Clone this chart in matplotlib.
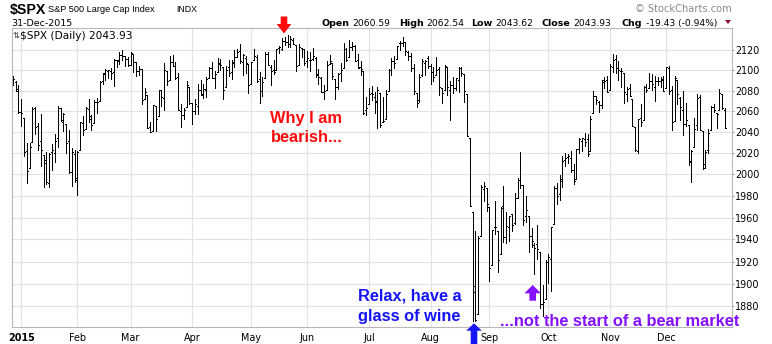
import matplotlib
matplotlib.use("Agg")
import matplotlib.pyplot as plt
from matplotlib.patches import Polygon
from matplotlib.ticker import NullLocator
import numpy as np
import pandas as pd

plt.rcParams["font.family"] = ["DejaVu Sans"]

W, H = 772, 344

# trading calendar (last 3 sessions of 2014 + all of 2015)
holidays = ["2015-01-01", "2015-01-19", "2015-02-16", "2015-04-03", "2015-05-25",
            "2015-07-03", "2015-09-07", "2015-11-26", "2015-12-25"]
dates = pd.bdate_range("2014-12-29", "2015-12-31", freq="C", holidays=holidays)

# daily OHLC (Dec-14 | Jan .. Dec)
opens = [2088, 2088, 2082,
         2059, 2054, 2022, 2006, 2031, 2063, 2046, 2032, 2018, 2014, 1992, 2021, 2020, 2034, 2063, 2050, 2048, 2032, 2002, 2019,
         1997, 2023, 2049, 2043, 2062, 2053, 2049, 2069, 2070, 2089, 2096, 2099, 2099, 2098, 2110, 2109, 2115, 2114, 2111,
         2105, 2116, 2108, 2099, 2101, 2072, 2076, 2045, 2041, 2065, 2055, 2081, 2073, 2099, 2090, 2108, 2104, 2093, 2060, 2056, 2064, 2084,
         2068, 2060, 2065, 2081, 2077, 2081, 2092, 2102, 2092, 2098, 2106, 2103, 2084, 2103, 2098, 2107, 2113, 2119, 2108, 2112, 2106,
         2087, 2110, 2113, 2091, 2080, 2092, 2116, 2103, 2100, 2100, 2122, 2121, 2129, 2128, 2126, 2130, 2125, 2105, 2122, 2121,
         2109, 2110, 2111, 2112, 2095, 2092, 2079, 2081, 2106, 2107, 2091, 2084, 2097, 2102, 2121, 2113, 2123, 2124, 2110, 2103, 2099, 2061,
         2067, 2078, 2074, 2070, 2078, 2050, 2053, 2080, 2100, 2109, 2111, 2127, 2127, 2128, 2118, 2114, 2102, 2078, 2071, 2095, 2107, 2112,
         2104, 2098, 2095, 2101, 2083, 2081, 2103, 2081, 2086, 2083, 2090, 2102, 2096, 2077, 2034, 1965, 1898, 1873, 1943, 1986, 1987,
         1970, 1917, 1951, 1948, 1927, 1971, 1942, 1951, 1963, 1955, 1978, 1995, 1990, 1961, 1961, 1943, 1935, 1936, 1929, 1882, 1887,
         1920, 1922, 1954, 1987, 1982, 1994, 2014, 2016, 2015, 2004, 1996, 2024, 2032, 2033, 2033, 2022, 2058, 2075, 2069, 2066, 2088, 2090,
         2081, 2103, 2111, 2102, 2099, 2097, 2077, 2083, 2072, 2045, 2022, 2054, 2052, 2084, 2083, 2089, 2084, 2089, 2089, 2091,
         2083, 2102, 2081, 2051, 2090, 2073, 2061, 2048, 2047, 2013, 2026, 2047, 2074, 2041, 2010, 2023, 2042, 2064, 2058, 2061, 2077, 2061]
highs = [2094, 2089, 2086,
         2072, 2054, 2030, 2030, 2064, 2064, 2049, 2057, 2018, 2021, 2020, 2029, 2038, 2065, 2063, 2058, 2048, 2042, 2025, 2023,
         2022, 2050, 2055, 2064, 2072, 2056, 2071, 2073, 2089, 2097, 2101, 2100, 2102, 2111, 2110, 2118, 2120, 2114, 2113,
         2118, 2116, 2108, 2104, 2101, 2083, 2076, 2050, 2066, 2065, 2081, 2081, 2107, 2099, 2114, 2115, 2108, 2097, 2067, 2063, 2089, 2084,
         2068, 2072, 2087, 2090, 2087, 2093, 2103, 2108, 2099, 2112, 2111, 2103, 2104, 2110, 2110, 2120, 2121, 2126, 2116, 2114, 2106,
         2108, 2121, 2115, 2098, 2093, 2118, 2118, 2105, 2110, 2121, 2124, 2132, 2133, 2135, 2134, 2132, 2125, 2126, 2122, 2121,
         2119, 2118, 2122, 2113, 2101, 2093, 2086, 2109, 2115, 2107, 2091, 2097, 2107, 2127, 2122, 2130, 2128, 2125, 2116, 2109, 2099, 2074,
         2083, 2085, 2079, 2084, 2078, 2074, 2081, 2101, 2112, 2114, 2124, 2129, 2133, 2128, 2119, 2117, 2106, 2078, 2096, 2111, 2110, 2114,
         2106, 2103, 2113, 2103, 2083, 2105, 2103, 2089, 2093, 2092, 2103, 2103, 2096, 2077, 2034, 1965, 1948, 1943, 1990, 1993, 1987,
         1970, 1949, 1975, 1948, 1970, 1989, 1965, 1961, 1963, 1983, 1997, 2021, 1990, 1980, 1961, 1950, 1937, 1953, 1929, 1899, 1921,
         1927, 1951, 1989, 1992, 1999, 2017, 2020, 2019, 2022, 2010, 2024, 2034, 2034, 2039, 2038, 2055, 2080, 2075, 2070, 2090, 2093, 2094,
         2106, 2116, 2115, 2109, 2102, 2097, 2084, 2087, 2072, 2045, 2053, 2067, 2085, 2087, 2097, 2096, 2094, 2093, 2093, 2094,
         2103, 2104, 2085, 2094, 2090, 2074, 2080, 2068, 2047, 2023, 2054, 2077, 2076, 2041, 2023, 2043, 2065, 2067, 2058, 2082, 2077, 2063]
lows = [2086, 2080, 2058,
        2046, 2017, 1992, 2006, 2031, 2038, 2023, 2008, 1988, 1991, 1988, 2004, 2012, 2026, 2051, 2041, 2020, 2001, 1989, 1993,
        1981, 2023, 2037, 2043, 2050, 2042, 2049, 2058, 2070, 2087, 2090, 2092, 2091, 2085, 2103, 2106, 2110, 2104, 2104,
        2105, 2098, 2094, 2095, 2067, 2072, 2044, 2040, 2041, 2041, 2055, 2065, 2061, 2086, 2090, 2104, 2091, 2061, 2045, 2053, 2064, 2067,
        2048, 2057, 2057, 2076, 2073, 2074, 2092, 2092, 2083, 2098, 2100, 2072, 2084, 2094, 2091, 2103, 2113, 2107, 2095, 2097, 2078,
        2087, 2110, 2088, 2068, 2075, 2092, 2105, 2086, 2096, 2100, 2117, 2120, 2125, 2123, 2123, 2126, 2099, 2105, 2113, 2105,
        2103, 2099, 2110, 2093, 2087, 2079, 2072, 2081, 2106, 2091, 2072, 2082, 2089, 2102, 2109, 2113, 2120, 2109, 2102, 2095, 2057, 2056,
        2067, 2071, 2058, 2044, 2045, 2050, 2053, 2080, 2095, 2102, 2111, 2120, 2124, 2115, 2110, 2099, 2077, 2064, 2069, 2094, 2095, 2102,
        2087, 2089, 2095, 2076, 2068, 2081, 2076, 2052, 2078, 2081, 2079, 2094, 2069, 2036, 1971, 1867, 1867, 1873, 1943, 1975, 1966,
        1903, 1917, 1945, 1911, 1927, 1938, 1937, 1939, 1948, 1954, 1978, 1987, 1953, 1956, 1929, 1933, 1909, 1922, 1879, 1872, 1887,
        1901, 1894, 1954, 1972, 1976, 1988, 2008, 2011, 2002, 1991, 1996, 2020, 2022, 2027, 2017, 2022, 2058, 2067, 2059, 2063, 2083, 2079,
        2081, 2098, 2097, 2090, 2084, 2068, 2070, 2075, 2046, 2022, 2020, 2046, 2052, 2079, 2083, 2081, 2070, 2086, 2084, 2080,
        2083, 2077, 2042, 2051, 2067, 2052, 2037, 2046, 2009, 1993, 2026, 2042, 2042, 2005, 2006, 2020, 2042, 2059, 2044, 2061, 2062, 2044]
closes = [2091, 2080, 2059,
          2058, 2021, 2003, 2026, 2062, 2045, 2028, 2023, 2011, 1993, 2019, 2023, 2032, 2063, 2052, 2057, 2030, 2002, 2021, 1995,
          2021, 2050, 2042, 2063, 2055, 2047, 2069, 2069, 2088, 2097, 2100, 2100, 2097, 2110, 2110, 2115, 2114, 2111, 2105,
          2117, 2108, 2099, 2101, 2071, 2079, 2044, 2040, 2066, 2053, 2081, 2074, 2100, 2089, 2108, 2104, 2092, 2061, 2056, 2061, 2086, 2068,
          2060, 2067, 2081, 2076, 2082, 2091, 2102, 2092, 2096, 2107, 2105, 2081, 2100, 2097, 2108, 2113, 2118, 2109, 2115, 2107, 2086,
          2108, 2114, 2089, 2080, 2088, 2116, 2105, 2099, 2098, 2121, 2123, 2129, 2128, 2126, 2131, 2126, 2104, 2123, 2121, 2107,
          2112, 2110, 2114, 2096, 2093, 2079, 2080, 2105, 2109, 2094, 2084, 2096, 2100, 2121, 2110, 2123, 2124, 2109, 2102, 2101, 2058, 2063,
          2077, 2077, 2069, 2081, 2047, 2051, 2077, 2100, 2109, 2107, 2124, 2127, 2128, 2119, 2114, 2102, 2080, 2068, 2093, 2109, 2109, 2104,
          2098, 2093, 2100, 2084, 2078, 2104, 2084, 2086, 2083, 2092, 2102, 2097, 2080, 2036, 1971, 1893, 1868, 1941, 1988, 1989, 1972,
          1914, 1949, 1951, 1921, 1969, 1942, 1952, 1961, 1953, 1978, 1995, 1990, 1958, 1967, 1943, 1939, 1932, 1931, 1882, 1884, 1920,
          1924, 1951, 1987, 1980, 1996, 2013, 2015, 2017, 2004, 1994, 2024, 2033, 2034, 2031, 2019, 2053, 2075, 2071, 2066, 2090, 2089, 2079,
          2104, 2110, 2102, 2100, 2099, 2079, 2082, 2075, 2046, 2023, 2053, 2050, 2084, 2081, 2089, 2087, 2089, 2089, 2090, 2080,
          2103, 2080, 2050, 2092, 2077, 2064, 2048, 2052, 2012, 2022, 2043, 2073, 2042, 2006, 2021, 2039, 2064, 2061, 2057, 2078, 2063, 2044]

yticks = list(range(1880, 2121, 20))
header = [("Open", "2060.59"), ("High", "2062.54"), ("Low", "2043.62"),
          ("Close", "2043.93"), ("Chg", "-19.43 (-0.94%)")]
last_close = "2043.93"

x = np.arange(len(dates)) - 3
opens, highs, lows, closes = map(np.array, (opens, highs, lows, closes))

fig = plt.figure(figsize=(W / 100, H / 100), dpi=100)
fig.patch.set_facecolor("white")


def fx(px):
    return px / W


def fy(py):
    return 1 - py / H


ax = fig.add_axes([fx(12), fy(327), fx(732) - fx(12), fy(28) - fy(327)])
ax.set_yscale("log")
ax.set_ylim(1862, 2142)
ax.set_xlim(-3.3, 253.5)

# OHLC bars, 1px wide
bar = dict(color="black", lw=0.6, antialiased=False)
ax.vlines(x, lows, highs, **bar)
ax.hlines(opens, x - 0.36, x, **bar)
ax.hlines(closes, x, x + 0.36, **bar)

# y axis on the right
ax.yaxis.tick_right()
ax.set_yticks(yticks)
ax.set_yticklabels([str(v) for v in yticks])
ax.yaxis.set_minor_locator(NullLocator())
ax.tick_params(axis="y", labelsize=6.9, length=1.5, pad=0.8, color="#999999")

# month ticks
month_pos, month_lab = [], []
for i, d in enumerate(dates):
    if d.year == 2015 and (i == 0 or dates[i - 1].month != d.month):
        month_pos.append(x[i])
        month_lab.append("2015" if d.month == 1 else d.strftime("%b"))
ax.set_xticks(month_pos)
ax.set_xticklabels(month_lab)
ax.xaxis.set_minor_locator(NullLocator())
ax.tick_params(axis="x", labelsize=6.9, length=0, pad=4.2)
ax.get_xticklabels()[0].set_fontweight("bold")

ax.grid(True, color="#e2e2e2", lw=0.8)
ax.set_axisbelow(True)
for s in ax.spines.values():
    s.set_color("#b8b8b8")
    s.set_linewidth(0.8)

# header
fig.text(fx(10), fy(14), "$SPX", fontsize=10.2, fontweight="bold",
         family="Liberation Sans", va="baseline")
fig.text(fx(48), fy(12), "S&P 500 Large Cap Index", fontsize=6.6,
         family="Liberation Sans", va="baseline")
fig.text(fx(176), fy(12), "INDX", fontsize=6.3, family="Liberation Sans", va="baseline")
fig.text(fx(11), fy(25.7), "31-Dec-2015", fontsize=6.8, va="baseline")
fig.text(fx(732), fy(12.5), "\u00a9 StockCharts.com", fontsize=7.1, color="#8a8a8a",
         ha="right", va="baseline")

renderer = fig.canvas.get_renderer()
label_x = [321, 399, 471, 542, 622]
for (lab, val), lx in zip(header, label_x):
    t = fig.text(fx(lx), fy(25.7), lab, fontsize=6.8, fontweight="bold", va="baseline")
    right = t.get_window_extent(renderer).x1
    fig.text(fx(right + 3), fy(25.7), val, fontsize=6.6, va="baseline")
fig.add_artist(Polygon([(fx(725), fy(20)), (fx(731), fy(20)), (fx(728), fy(24))],
                       closed=True, transform=fig.transFigure, color="#8b1538", lw=0))

fig.text(fx(12.5), fy(38.5), "\u21c5", fontsize=6, va="baseline", color="#333333")
fig.text(fx(19.5), fy(39), "$SPX (Daily) " + last_close, fontsize=7.6, va="baseline")


def block_arrow(cx, tip, base, end, head_half, shaft_half, color):
    pts = [(cx, tip), (cx - head_half, base), (cx - shaft_half, base),
           (cx - shaft_half, end), (cx + shaft_half, end), (cx + shaft_half, base),
           (cx + head_half, base)]
    fig.add_artist(Polygon([(fx(px), fy(py)) for px, py in pts], closed=True,
                           transform=fig.transFigure, color=color, lw=0))


red, blue, purple = "#ff0a0a", "#1414f5", "#8410ff"
block_arrow(284, 33.5, 24, 16.5, 7.3, 3.3, red)
block_arrow(474, 323.3, 330.7, 344, 7.8, 3.3, blue)
block_arrow(532.7, 285, 293.3, 300.7, 8.3, 3.3, purple)

ann = dict(fontsize=11.8, fontweight="bold", family="Liberation Sans", va="baseline")
fig.text(fx(270.5), fy(122.5), "Why I am", color=red, **ann)
fig.text(fx(270.5), fy(142.5), "bearish...", color=red, **ann)
fig.text(fx(358), fy(300.5), "Relax, have a", color=blue, **ann)
fig.text(fx(358), fy(320.5), "glass of wine", color=blue, **ann)
fig.text(fx(739.5), fy(326.5), "...not the start of a bear market", color=purple,
         ha="right", **ann)

fig.savefig("out.png", dpi=100, facecolor="white")
